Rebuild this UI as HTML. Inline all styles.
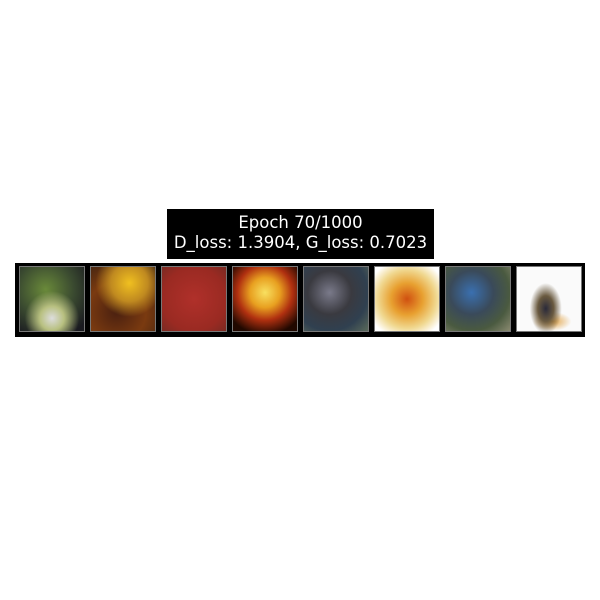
<!DOCTYPE html>
<html><head><meta charset="utf-8"><style>
html,body{margin:0;padding:0;background:#fff;width:600px;height:600px;overflow:hidden;font-family:"DejaVu Sans","Liberation Sans",sans-serif}
#title{position:absolute;left:167px;top:209px;width:267px;height:50px;background:#000;color:#fff;font-size:16.5px;line-height:19.5px;text-align:center;padding-top:4px;box-sizing:border-box}
#strip{position:absolute;left:15px;top:263px;width:570px;height:74px;background:#000}
.img{position:absolute;top:3px;width:66px;height:66px;border:1px solid #777;box-sizing:border-box}
</style></head><body>
<div id="title">Epoch 70/1000<br>D_loss: 1.3904, G_loss: 0.7023</div>
<div id="strip">
<div class="img" style="left:4px;background:radial-gradient(circle at 50% 80%,#ddd 0,#b8c080 20%,transparent 45%),radial-gradient(circle at 40% 35%,#6a8a3a,#3a4a30 50%,#1a1a20 90%)"></div>
<div class="img" style="left:75px;background:radial-gradient(circle at 60% 25%,#f0c020 0,#c08a20 30%,transparent 55%),radial-gradient(circle at 40% 70%,#4a2010,#7a3a10 50%,#3a2010)"></div>
<div class="img" style="left:146px;background:radial-gradient(circle,#b0302a,#9a2a22 70%,#7a2a22)"></div>
<div class="img" style="left:217px;background:radial-gradient(circle at 50% 40%,#f8e060 0,#e8a020 30%,#b03010 55%,#200800 85%)"></div>
<div class="img" style="left:288px;background:radial-gradient(circle at 40% 40%,#7a7a8a 0,#3a3a40 40%,#304050 70%,#5a6a5a)"></div>
<div class="img" style="left:359px;background:radial-gradient(circle at 50% 50%,#d05010 0,#e8a030 35%,#f0d890 65%,#fff 90%)"></div>
<div class="img" style="left:430px;background:radial-gradient(circle at 40% 40%,#3a70b0 0,#3a4a5a 40%,#4a5a40 70%,#8a8a70)"></div>
<div class="img" style="left:501px;background:radial-gradient(ellipse 25% 40% at 45% 65%,#2a2a3a 0,#6a5a40 50%,transparent 100%),radial-gradient(ellipse 30% 15% at 55% 85%,#e0a040 0,transparent 100%),#fafafa"></div>
</div>
</body></html>
